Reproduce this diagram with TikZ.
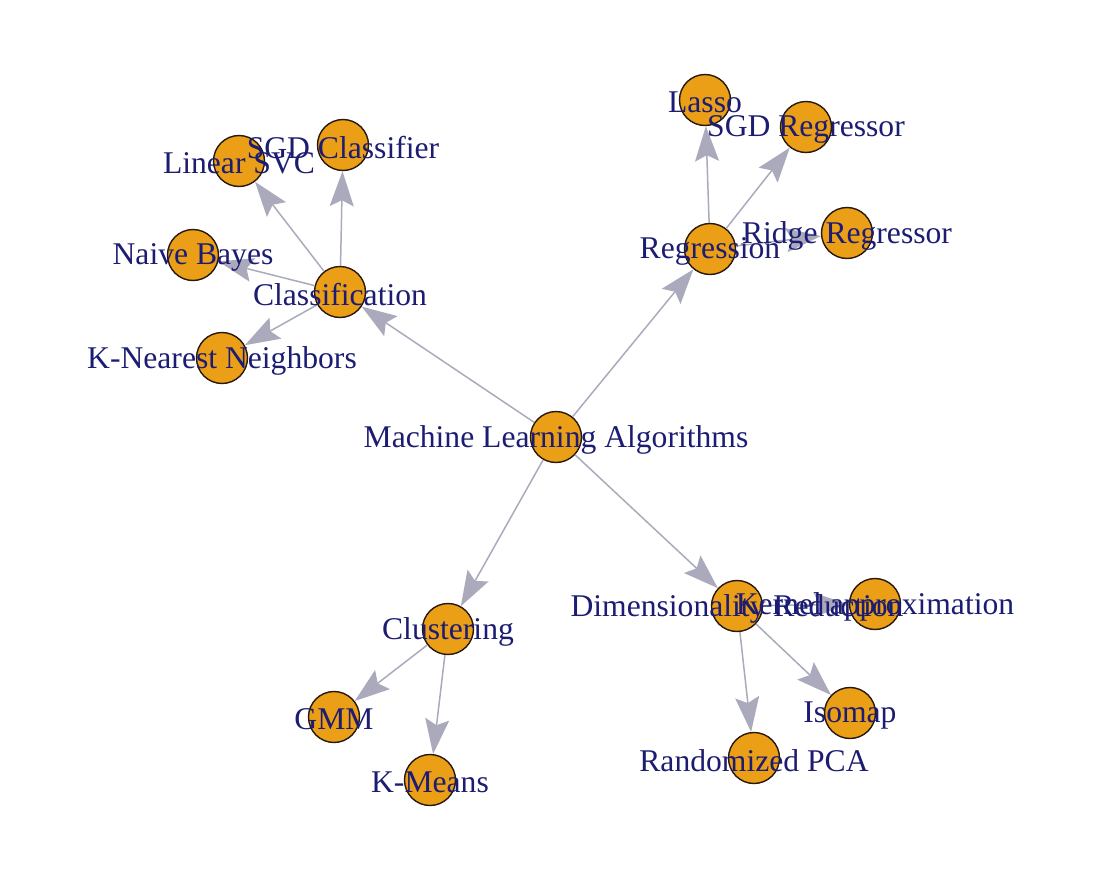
\documentclass[tikz,border=0pt]{standalone}
\usepackage{fontspec}
\setmainfont{Liberation Serif}
\usetikzlibrary{arrows.meta}

\definecolor{vfill}{RGB}{235,159,22}
\definecolor{vline}{RGB}{40,25,15}
\definecolor{ecol}{RGB}{170,170,188}
\definecolor{lcol}{RGB}{28,28,115}

\begin{document}
\begin{tikzpicture}[
    x=0.02cm, y=-0.02cm,
    vertex/.style={circle, draw=vline, line width=0.8pt, fill=vfill, minimum size=1.02cm, inner sep=0pt},
    edge/.style={draw=ecol, line width=0.85pt, -{Stealth[length=0.7cm, width=0.48cm, inset=0.12cm]}},
    vlabel/.style={text=lcol, inner sep=0pt, yshift=-0.05cm, font=\fontsize{18}{20}\selectfont}
]
\useasboundingbox (0,0) rectangle (1120,890);

% Define node positions
\node[vertex] (ML) at (556, 437) {};
\node[vertex] (CL) at (340, 292) {};
\node[vertex] (RE) at (710, 249) {};
\node[vertex] (CU) at (448, 629) {};
\node[vertex] (DR) at (737, 606) {};
\node[vertex] (LSVC) at (239, 161) {};
\node[vertex] (SGDC) at (343, 145) {};
\node[vertex] (NB) at (193, 255) {};
\node[vertex] (KNN) at (222, 358) {};
\node[vertex] (LA) at (705, 100) {};
\node[vertex] (SGDR) at (806, 127) {};
\node[vertex] (RR) at (847, 233) {};
\node[vertex] (GMM) at (334, 717) {};
\node[vertex] (KM) at (430, 780) {};
\node[vertex] (RPCA) at (754, 758) {};
\node[vertex] (ISO) at (850, 713) {};
\node[vertex] (KA) at (875, 604) {};

% Draw edges from parent to child
\draw[edge] (ML) -- (CL);
\draw[edge] (ML) -- (RE);
\draw[edge] (ML) -- (CU);
\draw[edge] (ML) -- (DR);
\draw[edge] (CL) -- (LSVC);
\draw[edge] (CL) -- (SGDC);
\draw[edge] (CL) -- (NB);
\draw[edge] (CL) -- (KNN);
\draw[edge] (RE) -- (LA);
\draw[edge] (RE) -- (SGDR);
\draw[edge] (RE) -- (RR);
\draw[edge] (CU) -- (GMM);
\draw[edge] (CU) -- (KM);
\draw[edge] (DR) -- (RPCA);
\draw[edge] (DR) -- (ISO);
\draw[edge] (DR) -- (KA);

% Add vertex labels on top
\node[vlabel] (ML-t) at (ML) {Machine Learning Algorithms};
\node[vlabel] (CL-t) at (CL) {Classification};
\node[vlabel] (RE-t) at (RE) {Regression};
\node[vlabel] (CU-t) at (CU) {Clustering};
\node[vlabel] (DR-t) at (DR) {Dimensionality Reduction};
\node[vlabel] (LSVC-t) at (LSVC) {Linear SVC};
\node[vlabel] (SGDC-t) at (SGDC) {SGD Classifier};
\node[vlabel] (NB-t) at (NB) {Naive Bayes};
\node[vlabel] (KNN-t) at (KNN) {K-Nearest Neighbors};
\node[vlabel] (LA-t) at (LA) {Lasso};
\node[vlabel] (SGDR-t) at (SGDR) {SGD Regressor};
\node[vlabel] (RR-t) at (RR) {Ridge Regressor};
\node[vlabel] (GMM-t) at (GMM) {GMM};
\node[vlabel] (KM-t) at (KM) {K-Means};
\node[vlabel] (RPCA-t) at (RPCA) {Randomized PCA};
\node[vlabel] (ISO-t) at (ISO) {Isomap};
\node[vlabel] (KA-t) at (KA) {Kernel approximation};

\end{tikzpicture}
\end{document}
